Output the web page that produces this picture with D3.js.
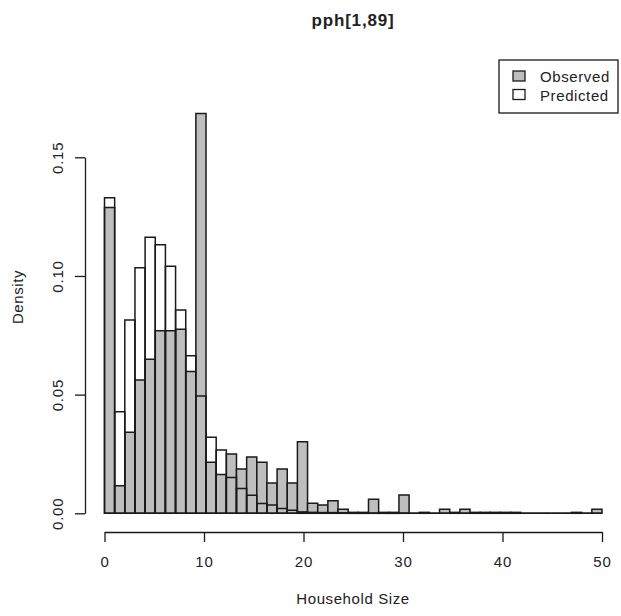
<!DOCTYPE html>
<html>
<head>
<meta charset="utf-8">
<script src="https://cdn.jsdelivr.net/npm/d3@7"></script>
<style>
  html, body { margin: 0; padding: 0; background: #fff; }
  svg { display: block; }
  text { font-family: "Liberation Sans", Arial, Helvetica, sans-serif; fill: #222; }
</style>
</head>
<body>
<svg id="chart" width="621" height="616"></svg>
<script>
// Histogram of household sizes: observed vs. predicted densities (49 equal bins over 0–50)
const title = "pph[1,89]";
const xLabel = "Household Size";
const yLabel = "Density";
const seriesNames = ["Observed", "Predicted"];

const xDomain = [0, 50];
const binCount = 49;
const xTicks = [0, 10, 20, 30, 40, 50];
const yTicks = [0, 0.05, 0.10, 0.15];

const observed = [
  0.1289, 0.0116, 0.0342, 0.0562, 0.0649, 0.0769, 0.0769, 0.0775, 0.0597, 0.1685,
  0.0215, 0.0163, 0.0250, 0.0187, 0.0237, 0.0215, 0.0128, 0.0187, 0.0128, 0.0301,
  0.0042, 0.0035, 0.0053, 0.0017, 0.0004, 0.0004, 0.0059, 0.0004, 0.0004, 0.0077,
  0.0000, 0.0004, 0.0000, 0.0017, 0.0004, 0.0017, 0.0004, 0.0004, 0.0004, 0.0004,
  0.0004, 0.0000, 0.0000, 0.0000, 0.0000, 0.0000, 0.0004, 0.0000, 0.0017
];

const predicted = [
  0.1330, 0.0428, 0.0814, 0.1035, 0.1163, 0.1132, 0.1041, 0.0857, 0.0664, 0.0494,
  0.0320, 0.0267, 0.0151, 0.0105, 0.0076, 0.0041, 0.0035, 0.0020, 0.0013, 0.0006,
  0.0004, 0.0003, 0.0003, 0.0002, 0.0002, 0.0002, 0.0001, 0.0001, 0.0001, 0.0001,
  0.0000, 0.0000, 0.0000, 0.0000, 0.0000, 0.0000, 0.0000, 0.0000, 0.0000, 0.0000,
  0.0000, 0.0000, 0.0000, 0.0000, 0.0000, 0.0000, 0.0000, 0.0000, 0.0000
];

const fillObserved = "#bebebe";
const strokeColor = "#1a1a1a";

const svg = d3.select("#chart");

const x = d3.scaleLinear().domain(xDomain).range([104.5, 602]);
const y = d3.scaleLinear().domain([0, 0.15]).range([513.3, 157.3]);

const binW = (xDomain[1] - xDomain[0]) / binCount;
const edges = d3.range(binCount).map(i => [xDomain[0] + i * binW, xDomain[0] + (i + 1) * binW]);

// each bar is a closed path so that empty bins still show their outline on the baseline
function barPath(d, i) {
  const x0 = x(edges[i][0]), x1 = x(edges[i][1]);
  const y0 = y(0), y1 = y(d);
  return `M${x0},${y0}V${y1}H${x1}V${y0}Z`;
}

function drawBars(values, fill, cls) {
  svg.append("g").attr("class", cls)
    .selectAll("path")
    .data(values)
    .join("path")
    .attr("d", barPath)
    .attr("fill", fill)
    .attr("stroke", strokeColor)
    .attr("stroke-width", 1.5)
    .attr("stroke-linejoin", "miter");
}

// observed first (filled), predicted outlines on top
drawBars(observed, fillObserved, "observed");
drawBars(predicted, "none", "predicted");

// x axis
const xAxis = svg.append("g")
  .attr("transform", "translate(0,532)")
  .call(d3.axisBottom(x).tickValues(xTicks).tickFormat(d3.format("d")).tickSize(10).tickSizeOuter(0));
xAxis.select(".domain").attr("stroke", strokeColor).attr("stroke-width", 1.3);
xAxis.selectAll(".tick line").attr("stroke", strokeColor).attr("stroke-width", 1.3);
xAxis.selectAll(".tick text")
  .attr("y", 35).attr("dy", 0)
  .style("font-size", "15px").style("letter-spacing", "0.8px").attr("fill", "#222");

// y axis
const yAxis = svg.append("g")
  .attr("transform", "translate(85,0)")
  .call(d3.axisLeft(y).tickValues(yTicks).tickFormat(d3.format(".2f")).tickSize(10).tickSizeOuter(0));
yAxis.select(".domain").attr("stroke", strokeColor).attr("stroke-width", 1.3);
yAxis.selectAll(".tick line").attr("stroke", strokeColor).attr("stroke-width", 1.3);
yAxis.selectAll(".tick text")
  .attr("transform", "rotate(-90)")
  .attr("x", 0).attr("y", -22.5).attr("dy", 0)
  .attr("text-anchor", "middle")
  .style("font-size", "15px").style("letter-spacing", "0.8px").attr("fill", "#222");

// titles
svg.append("text")
  .attr("x", 353).attr("y", 26)
  .attr("text-anchor", "middle")
  .style("font-size", "17px").style("font-weight", "bold").style("letter-spacing", "0.8px")
  .text(title);

svg.append("text")
  .attr("x", 353).attr("y", 604)
  .attr("text-anchor", "middle")
  .style("font-size", "15px").style("letter-spacing", "0.6px")
  .text(xLabel);

svg.append("text")
  .attr("transform", "translate(23,297) rotate(-90)")
  .attr("text-anchor", "middle")
  .style("font-size", "15px").style("letter-spacing", "0.6px")
  .text(yLabel);

// legend
const legend = svg.append("g").attr("class", "legend");
legend.append("rect")
  .attr("x", 499).attr("y", 60).attr("width", 119).attr("height", 53)
  .attr("fill", "#fff").attr("stroke", strokeColor).attr("stroke-width", 1.3);
const legendFills = [fillObserved, "#fff"];
seriesNames.forEach((name, i) => {
  legend.append("rect")
    .attr("x", 513).attr("y", 71 + i * 18.5).attr("width", 12).attr("height", 10)
    .attr("fill", legendFills[i]).attr("stroke", strokeColor).attr("stroke-width", 1.3);
  legend.append("text")
    .attr("x", 540).attr("y", 82 + i * 18.5)
    .style("font-size", "15px").style("letter-spacing", "0.6px")
    .text(name);
});
</script>
</body>
</html>
